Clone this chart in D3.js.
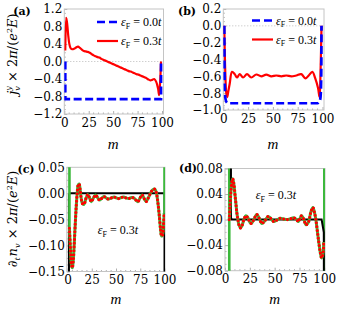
<!DOCTYPE html>
<meta charset="utf-8">
<style>
body { margin: 0; background: #fff; }
text { font-family: "DejaVu Serif", "Liberation Serif", serif; fill: #000; }
.frame { fill: none; stroke: #c4c4c4; stroke-width: 1; }
.axis line { stroke: #b0b0b0; }
.axis path { display: none; }
.axis text { font-size: 12px; font-family: "DejaVu Serif", serif; }
.lg { font-family: "Liberation Serif", serif; }
</style>
<svg width="341" height="317"></svg>
<script src="https://cdn.jsdelivr.net/npm/d3@7/dist/d3.min.js"></script>
<script>

var svg = d3.select("svg");

// ---- data ----
var mTicks = [0, 25, 50, 75, 100];
var legendEps = ["0.0", "0.3"];

// (a) j_v^y
var aTicks = [-1.2, -0.8, -0.4, 0.0, 0.4, 0.8, 1.2];
var aBlue = [[1, 0], [1, -0.86], [99, -0.86], [99, 0]];
var aRed = [[1, 0.25], [2, 1.0], [3, 0.85], [4, 0.6], [5, 0.42], [6, 0.33], [7, 0.29], [8, 0.28], [10, 0.29],
  [12, 0.32], [14, 0.34], [16, 0.31], [18, 0.27], [20, 0.24], [22, 0.23], [24, 0.22], [26, 0.2], [28, 0.17],
  [30, 0.14], [32, 0.12], [34, 0.1], [36, 0.09], [38, 0.06], [40, 0.04], [42, 0.02], [44, 0.0], [46, -0.02],
  [48, -0.04], [50, -0.06], [52, -0.08], [54, -0.1], [56, -0.12], [58, -0.14], [60, -0.16], [62, -0.18],
  [64, -0.2], [66, -0.22], [68, -0.23], [70, -0.25], [72, -0.27], [74, -0.29], [76, -0.3], [78, -0.32],
  [80, -0.34], [82, -0.36], [84, -0.38], [86, -0.41], [88, -0.43], [90, -0.42], [92, -0.4], [94, -0.46],
  [96, -0.62], [97, -0.77], [98, -0.5], [99, 0.0]];

// (b) j_v^y
var bTicks = [-1.0, -0.8, -0.6, -0.4, -0.2, 0.0, 0.2];
var bBlue = [[1, 0], [1.3, -0.6], [2, -0.85], [3, -0.9], [5, -0.92], [95, -0.92], [97, -0.9], [98, -0.85],
  [98.7, -0.6], [99, 0]];
var bRed = [[1, 0], [2, -0.55], [3, -0.8], [4, -0.846], [5, -0.78], [6.5, -0.685], [8.8, -0.546], [11.5, -0.574],
  [13.8, -0.614], [16.5, -0.574], [19.9, -0.614], [23.9, -0.574], [28.2, -0.614], [33.3, -0.578], [38.3, -0.6],
  [43.3, -0.58], [48.4, -0.6], [53.4, -0.59], [58.5, -0.6], [63.5, -0.59], [68.5, -0.6], [73.6, -0.59],
  [78.6, -0.574], [82.7, -0.625], [86.1, -0.59], [89.7, -0.546], [92.7, -0.625], [95.5, -0.74], [97, -0.846],
  [98, -0.55], [99, 0]];

// (c) d_t n_v
var cTicks = [-0.15, -0.10, -0.05, 0.00, 0.05];
var cCurve = [[2, -0.067], [3, -0.105], [4, -0.136], [5, -0.143], [6, -0.128], [7, -0.095], [8, -0.058],
  [9, -0.025], [10, 0.0], [11, 0.016], [12, 0.018], [13, 0.008], [14, -0.008], [15.5, -0.02], [17, -0.021],
  [19, -0.01], [21, -0.002], [23, -0.01], [24.5, -0.016], [27, -0.008], [29, -0.003], [31, -0.008],
  [33, -0.013], [35, -0.01], [37.5, -0.006], [40, -0.009], [42.5, -0.011], [45, -0.009], [48, -0.007],
  [50.5, -0.009], [53, -0.01], [55.5, -0.008], [58, -0.007], [60.5, -0.009], [63, -0.01], [66, -0.008],
  [68.5, -0.009], [72.5, -0.016], [75, -0.008], [77, -0.003], [79, -0.01], [81, -0.016], [83.5, -0.008],
  [86, 0.002], [88, 0.007], [90, 0.008], [91.5, 0.002], [93, -0.015], [94.5, -0.04], [96, -0.07],
  [97, -0.082], [98, -0.08], [99, -0.06], [99.7, -0.038]];
var cBlack = [[1.5, -0.2], [1.5, -0.003], [2.2, 0], [100, 0], [100, -0.2]];

// (d) d_t n_v
var dTicks = [-0.08, -0.04, 0.00, 0.04, 0.08];
var dCurve = [[4.3, 0.0], [5, 0.02], [6, 0.045], [7, 0.06], [7.8, 0.064], [9, 0.055], [10, 0.04], [11, 0.025],
  [12, 0.01], [13, 0.0], [14, -0.008], [15.5, -0.013], [17, -0.01], [19, 0.0], [21, 0.006], [23, 0.003],
  [25, -0.004], [26.5, -0.006], [29, 0.0], [32, 0.008], [34.5, 0.002], [37, -0.006], [40, -0.002],
  [43.5, 0.005], [46, 0.002], [49, -0.003], [52, -0.001], [55.5, 0.002], [59, 0.001], [62, 0.0], [65.5, 0.001],
  [69, 0.003], [72, 0.0], [74, -0.003], [77, 0.006], [79.5, 0.0], [81.5, -0.008], [84, -0.004], [86.5, 0.012],
  [88.5, 0.019], [90, 0.012], [91.5, 0.0], [93, -0.018], [94.5, -0.036], [96, -0.052], [97.3, -0.06],
  [98.5, -0.055], [99.5, -0.035]];
var dBlack = [[6, 0.1], [6, 0.003], [6.8, 0], [97.3, 0], [99.5, -0.02], [99.6, -0.1]];
var dWalls = [4.3, 100];

var blue = "#0000ff", red = "#ff0000", green = "#3cb83c";

function panel(id, xr, yd, yr, frameX, yTicks, fmt) {
  var x = d3.scaleLinear().domain([0, 100]).range(xr);
  var y = d3.scaleLinear().domain(yd).range(yr);
  var g = svg.append("g");
  g.append("clipPath").attr("id", "clip" + id)
    .append("rect")
    .attr("x", frameX[0]).attr("y", yr[1])
    .attr("width", frameX[1] - frameX[0]).attr("height", yr[0] - yr[1]);

  // minor ticks
  var minorX = d3.range(0, 101, 5).filter(function(v) { return mTicks.indexOf(v) < 0; });
  var step = yTicks[1] - yTicks[0];
  var minorY = [];
  yTicks.slice(0, -1).forEach(function(t) {
    for (var k = 1; k < 4; k++) minorY.push(t + k * step / 4);
  });
  g.selectAll(".mx").data(minorX).enter().append("line")
    .attr("x1", function(d) { return x(d); }).attr("x2", function(d) { return x(d); })
    .attr("y1", yr[0]).attr("y2", yr[0] - 1.5).attr("stroke", "#b0b0b0");
  g.selectAll(".my").data(minorY).enter().append("line")
    .attr("y1", function(d) { return y(d); }).attr("y2", function(d) { return y(d); })
    .attr("x1", frameX[0]).attr("x2", frameX[0] + 1.5).attr("stroke", "#b0b0b0");

  g.append("g").attr("class", "axis")
    .attr("transform", "translate(0," + yr[0] + ")")
    .call(d3.axisBottom(x).tickValues(mTicks).tickSizeInner(-3).tickSizeOuter(0).tickPadding(4));
  g.append("g").attr("class", "axis")
    .attr("transform", "translate(" + frameX[0] + ",0)")
    .call(d3.axisLeft(y).tickValues(yTicks).tickFormat(d3.format(fmt)).tickSizeInner(-3).tickSizeOuter(0).tickPadding(2));

  g.append("rect").attr("class", "frame")
    .attr("x", frameX[0]).attr("y", yr[1])
    .attr("width", frameX[1] - frameX[0]).attr("height", yr[0] - yr[1]);

  var plot = g.append("g").attr("clip-path", "url(#clip" + id + ")");
  return { x: x, y: y, g: g, plot: plot };
}

function lineOf(p, curve) {
  return d3.line()
    .x(function(d) { return p.x(d[0]); })
    .y(function(d) { return p.y(d[1]); })
    .curve(curve || d3.curveLinear);
}

var smooth = d3.curveCatmullRom.alpha(0.5);

// ---------- (a) ----------
var pa = panel("a", [64.3, 162], [-1.2, 1.2], [114, 9], [64.3, 163.5], aTicks, ".1f");
pa.plot.append("line").attr("x1", 64.3).attr("x2", 163.5)
  .attr("y1", pa.y(0)).attr("y2", pa.y(0))
  .attr("stroke", "#bbb").attr("stroke-dasharray", "1 2");
pa.plot.append("path").datum(aRed).attr("d", lineOf(pa, smooth))
  .attr("fill", "none").attr("stroke", red).attr("stroke-width", 2.2);
pa.plot.append("path").datum(aBlue).attr("d", lineOf(pa))
  .attr("fill", "none").attr("stroke", blue).attr("stroke-width", 2.7).attr("stroke-dasharray", "8 3.5");

// ---------- (b) ----------
var pb = panel("b", [223.3, 322.5], [-1.0, 0.2], [110, 9], [223.3, 324], bTicks, ".1f");
pb.plot.append("line").attr("x1", 223.3).attr("x2", 324)
  .attr("y1", pb.y(0)).attr("y2", pb.y(0))
  .attr("stroke", "#bbb").attr("stroke-dasharray", "1 2");
pb.plot.append("path").datum(bRed).attr("d", lineOf(pb, smooth))
  .attr("fill", "none").attr("stroke", red).attr("stroke-width", 2.2);
pb.plot.append("path").datum(bBlue).attr("d", lineOf(pb, d3.curveMonotoneX))
  .attr("fill", "none").attr("stroke", blue).attr("stroke-width", 2.7).attr("stroke-dasharray", "8 3.5");

// ---------- (c) ----------
var pc = panel("c", [67.5, 164.5], [-0.15, 0.05], [271.5, 167.3], [66.8, 165], cTicks, ".2f");
pc.plot.append("path").datum(cBlack).attr("d", lineOf(pc))
  .attr("fill", "none").attr("stroke", "#000").attr("stroke-width", 2);
[cCurve[0], cCurve[cCurve.length - 1]].forEach(function(d, i) {
  var xm = i === 0 ? d[0] : 100;
  pc.plot.append("line").attr("x1", pc.x(xm)).attr("x2", pc.x(xm))
    .attr("y1", 160).attr("y2", pc.y(d[1]))
    .attr("stroke", green).attr("stroke-width", 2.6);
});
pc.plot.append("path").datum(cCurve).attr("d", lineOf(pc, smooth))
  .attr("fill", "none").attr("stroke", green).attr("stroke-width", 3);
pc.plot.append("path").datum(cCurve).attr("d", lineOf(pc, smooth))
  .attr("fill", "none").attr("stroke", red).attr("stroke-width", 3.2)
  .attr("stroke-linecap", "round").attr("stroke-dasharray", "0 3.8");

// ---------- (d) ----------
var pd = panel("d", [225, 324.3], [-0.08, 0.08], [270.7, 168.5], [225, 325], dTicks, ".2f");
dWalls.forEach(function(m) {
  pd.plot.append("line").attr("x1", pd.x(m)).attr("x2", pd.x(m))
    .attr("y1", 160).attr("y2", 280)
    .attr("stroke", green).attr("stroke-width", 2.6);
});
pd.plot.append("path").datum(dBlack).attr("d", lineOf(pd))
  .attr("fill", "none").attr("stroke", "#000").attr("stroke-width", 2);
pd.plot.append("path").datum(dCurve).attr("d", lineOf(pd, smooth))
  .attr("fill", "none").attr("stroke", green).attr("stroke-width", 3);
pd.plot.append("path").datum(dCurve).attr("d", lineOf(pd, smooth))
  .attr("fill", "none").attr("stroke", red).attr("stroke-width", 3.2)
  .attr("stroke-linecap", "round").attr("stroke-dasharray", "0 3.8");

// ---------- text helpers ----------
function rich(parent, x, y, parts, size, anchor, rotate, cls) {
  var t = parent.append("text")
    .attr("transform", "translate(" + x + "," + y + ")" + (rotate ? " rotate(" + rotate + ")" : ""))
    .attr("font-size", size).attr("text-anchor", anchor || "start");
  if (cls) t.attr("class", cls);
  parts.forEach(function(p) {
    var s = t.append("tspan").text(p.t);
    if (p.i) s.attr("font-style", "italic");
    if (p.s) s.attr("font-size", p.s);
    if (p.dx) s.attr("dx", p.dx);
    if (p.dy) s.attr("dy", p.dy);
    if (p.b) s.attr("font-weight", "bold");
  });
  return t;
}

function eps(val) {
  return [{ t: "ε", i: 1 }, { t: "F", s: 8, dy: 2.5 }, { t: " = " + val, dy: -2.5 }, { t: "t", i: 1 }];
}

// legends
function legend(p, x0, y0) {
  p.g.append("line").attr("x1", x0).attr("x2", x0 + 21).attr("y1", y0).attr("y2", y0)
    .attr("stroke", blue).attr("stroke-width", 2.7).attr("stroke-dasharray", "8 4");
  rich(p.g, x0 + 24, y0 + 4, eps(legendEps[0]), 12, "start", 0, "lg");
  p.g.append("line").attr("x1", x0).attr("x2", x0 + 21).attr("y1", y0 + 19).attr("y2", y0 + 19)
    .attr("stroke", red).attr("stroke-width", 2.2);
  rich(p.g, x0 + 24, y0 + 23, eps(legendEps[1]), 12, "start", 0, "lg");
}
legend(pa, 97, 22);
legend(pb, 252, 20.5);

rich(pc.g, 118, 234, eps(legendEps[1]), 12, "middle", 0, "lg");
rich(pd.g, 276, 199, eps(legendEps[1]), 12, "middle", 0, "lg");

// panel letters
rich(svg, 22, 15, [{ t: "(a)", b: 1 }], 11, "middle");
rich(svg, 187, 15, [{ t: "(b)", b: 1 }], 11, "middle");
rich(svg, 26, 173, [{ t: "(c)", b: 1 }], 11, "middle");
rich(svg, 188, 172, [{ t: "(d)", b: 1 }], 11, "middle");

// x titles
[[pa, 149], [pb, 149], [pc, 304], [pd, 304]].forEach(function(q) {
  rich(svg, q[0].x(50), q[1], [{ t: "m", i: 1 }], 15, "middle", 0, "lg");
});

// y titles
function tail(dy0) {
  return [{ t: " × 2", dy: dy0 }, { t: "π", i: 1 }, { t: "/(" }, { t: "e", i: 1 },
    { t: "2", s: 8, dy: -5 }, { t: "E", i: 1, dy: 5 }, { t: ")" }];
}
rich(svg, 17, 54, [{ t: "j", i: 1 }, { t: "v", i: 1, s: 8, dy: 3 }, { t: "y", i: 1, s: 8, dx: -4.5, dy: -9 }]
  .concat(tail(6)), 13, "middle", -90);
rich(svg, 17, 219, [{ t: "∂", i: 1 }, { t: "t", i: 1, s: 8, dy: 3 }, { t: "n", i: 1, dy: -3, dx: 1 },
  { t: "v", i: 1, s: 8, dy: 3 }].concat(tail(-3)), 13, "middle", -90);

</script>
